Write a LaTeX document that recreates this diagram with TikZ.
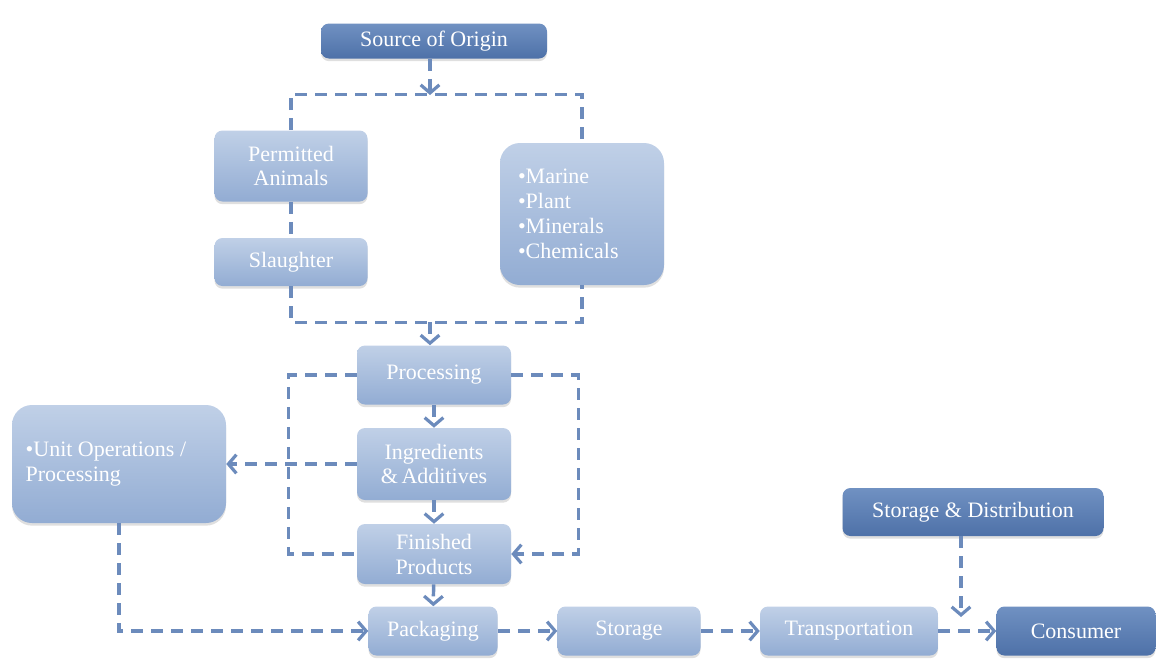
\documentclass[tikz,border=0pt]{standalone}
\usepackage{fontspec}
\setmainfont{Liberation Serif}
\usepackage{xcolor}
\definecolor{lighttop}{RGB}{192, 208, 231}
\definecolor{lightbot}{RGB}{146, 172, 211}
\definecolor{darktop}{RGB}{112, 145, 194}
\definecolor{darkbot}{RGB}{78, 113, 168}
\definecolor{flowline}{RGB}{108, 139, 188}
\usepackage{tikz}
\usetikzlibrary{arrows.meta, positioning, shadows}

\tikzset{
  lightbox/.style={rounded corners=6pt, top color=lighttop, bottom color=lightbot, draw=none,
    drop shadow={opacity=0.25, shadow xshift=0pt, shadow yshift=-2pt},
    text=white, font=\fontsize{16.5}{18.7}\selectfont, align=center, inner sep=2pt},
  darkbox/.style={lightbox, top color=darktop, bottom color=darkbot},
  bigbox/.style={lightbox, rounded corners=15pt, align=flush left},
  dline/.style={flowline, line width=2.6pt, dash pattern=on 9pt off 6pt},
  arr/.style={dline, -{Straight Barb[length=6pt, width=14pt, line width=2.4pt]}},
}

\begin{document}
\begin{tikzpicture}[x=0.75pt, y=-0.75pt]
  \useasboundingbox (0,0) rectangle (1156,664);

  % --- Origin ---
  \node[darkbox, minimum width=169.5pt, minimum height=26.25pt] (src) at (434,41) {Source of Origin};
  \node[lightbox, minimum width=114.75pt, minimum height=53.25pt] (perm) at (291,166) {Permitted\\Animals};
  \node[lightbox, minimum width=114.75pt, minimum height=36pt] (slau) at (291,262) {Slaughter};
  \node[bigbox, text width=96pt, inner xsep=13.5pt, minimum height=106.5pt] (mar) at (582,214)
       {•Marine\\•Plant\\•Minerals\\•Chemicals};

  % --- Processing chain ---
  \node[lightbox, minimum width=115.5pt, minimum height=44.25pt] (proc) at (434,375) {Processing};
  \node[lightbox, minimum width=115.5pt, minimum height=54pt] (ingr) at (434,464) {Ingredients\\\&\,Additives};
  \node[lightbox, minimum width=115.5pt, minimum height=45pt] (fin) at (434,554) {Finished\\Products};
  \node[bigbox, text width=140pt, inner xsep=10.25pt, minimum height=88.5pt] (unit) at (119,464)
       {•Unit Operations /\\Processing};

  % --- Distribution ---
  \node[lightbox, minimum width=96.75pt, minimum height=36.75pt] (pack) at (433,631) {Packaging};
  \node[lightbox, minimum width=107.25pt, minimum height=36.75pt] (stor) at (629,631) {Storage};
  \node[lightbox, minimum width=133.5pt, minimum height=36.75pt] (tran) at (849,631) {Transportation};
  \node[darkbox, minimum width=119.25pt, minimum height=36.75pt] (cons) at (1076,631) {Consumer};
  \node[darkbox, minimum width=195.75pt, minimum height=36pt] (sdist) at (973,512) {Storage \& Distribution};

  % bus lines
  \coordinate (topbus) at (430,95);
  \coordinate (midbus) at (430,322);
  \coordinate (sdend) at (961,617);
  \draw[arr] (src.south -| topbus) -- (topbus);
  \draw[dline] (perm.north) -- ++(0,-36) -| (mar.north);
  \draw[dline] (perm) -- (slau);
  \draw[dline] (slau.south) -- ++(0,36) -| (mar.south);
  \draw[arr] (midbus) -- (proc.north -| midbus);

  % loops round processing
  \draw[dline] (proc.west) -- ++(-68,0) |- (fin.west);
  \draw[arr] (proc.east) -- ++(67,0) |- (fin.east);
  \draw[arr] (ingr.west) -- (unit.east);
  \draw[arr] (proc) -- (ingr);
  \draw[arr] (ingr) -- (fin);
  \draw[arr] (fin) -- (pack);

  % to consumer
  \draw[arr] (unit.south) |- (pack.west);
  \draw[arr] (pack) -- (stor);
  \draw[arr] (stor) -- (tran);
  \draw[arr] (tran) -- (cons);
  \draw[arr] (sdist.south -| sdend) -- (sdend);
\end{tikzpicture}
\end{document}
